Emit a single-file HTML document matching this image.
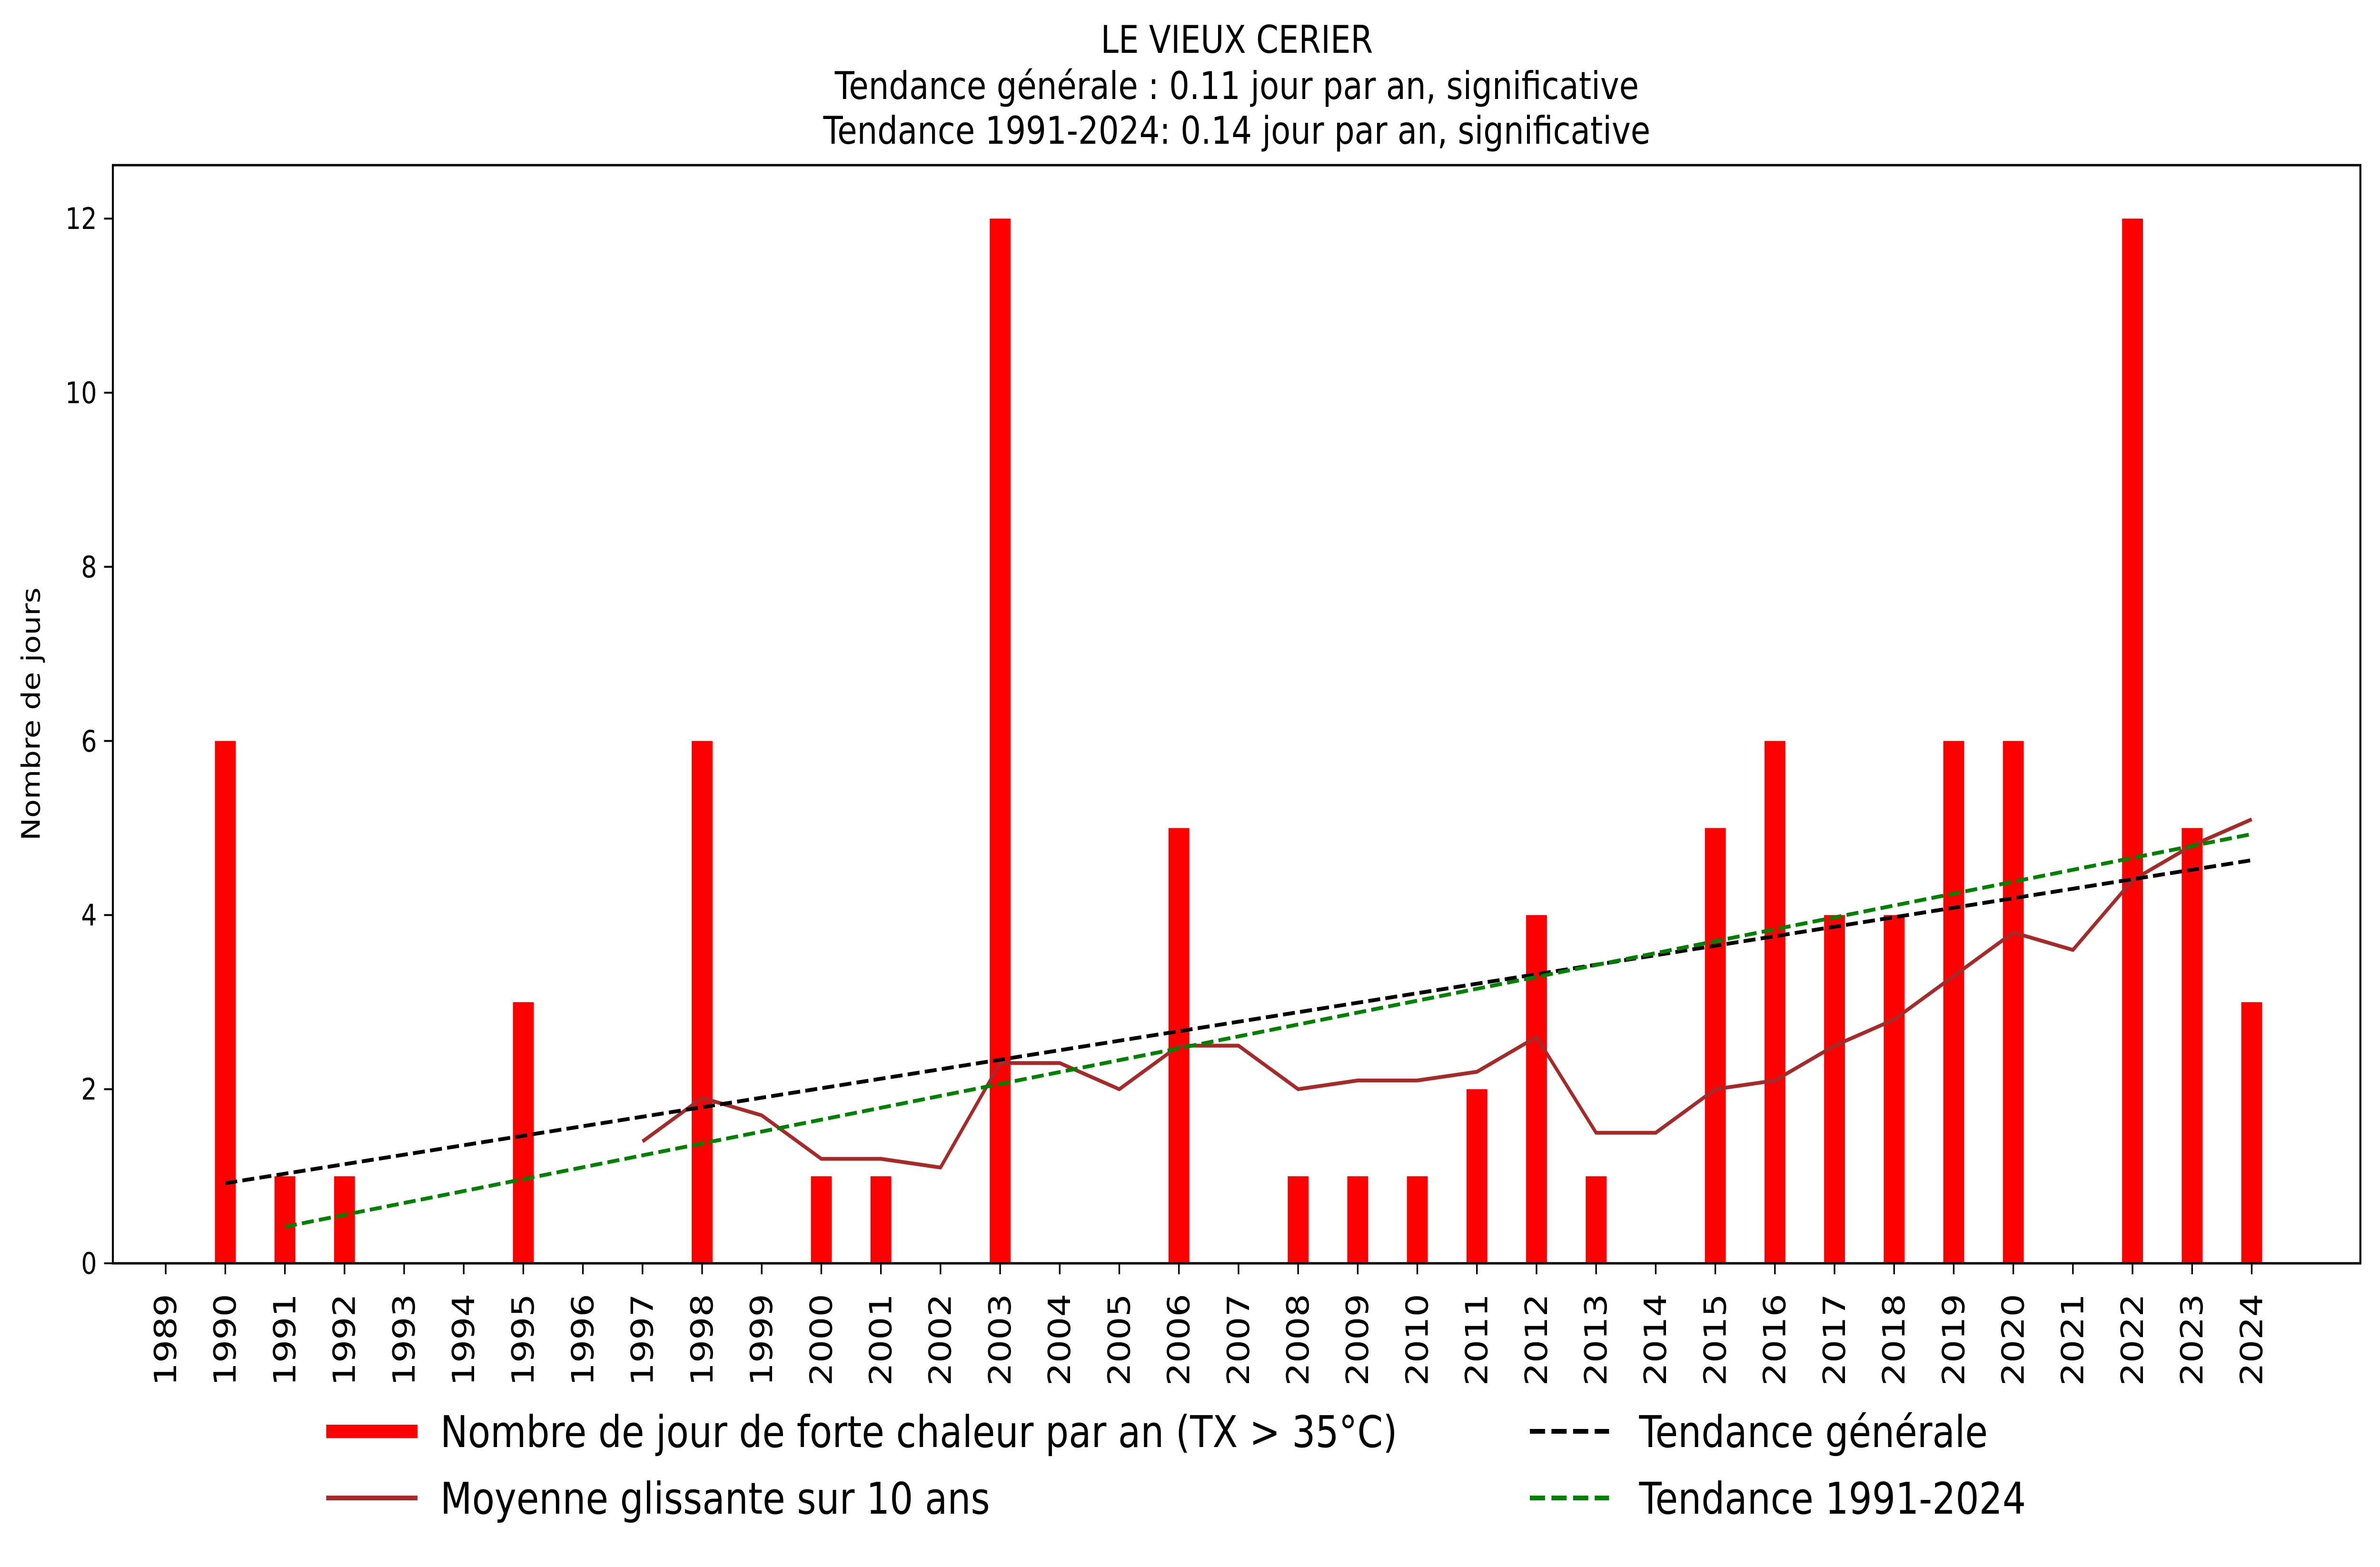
<!DOCTYPE html>
<html><head><meta charset="utf-8"><style>
html,body{margin:0;padding:0;background:#fff;overflow:hidden;width:100%;height:100%;}
svg{display:block;width:100vw;height:100vh;font-family:"DejaVu Sans","Liberation Sans",sans-serif;}
</style></head><body>
<svg viewBox="0 0 5946 3292" preserveAspectRatio="none" xmlns="http://www.w3.org/2000/svg">
<rect width="5946" height="3292" fill="#fff"/>
<g font-size="80" text-anchor="middle" fill="#000">
<text x="3090" y="111">LE VIEUX CERIER</text>
<text x="3090" y="208">Tendance générale : 0.11 jour par an, significative</text>
<text x="3090" y="302">Tendance 1991-2024: 0.14 jour par an, significative</text>
</g>
<g transform="translate(414 2654) scale(148.9 -182.9)" fill="#ff0000">
<rect x="0.825" y="0" width="0.35" height="6"/>
<rect x="1.825" y="0" width="0.35" height="1"/>
<rect x="2.825" y="0" width="0.35" height="1"/>
<rect x="5.825" y="0" width="0.35" height="3"/>
<rect x="8.825" y="0" width="0.35" height="6"/>
<rect x="10.825" y="0" width="0.35" height="1"/>
<rect x="11.825" y="0" width="0.35" height="1"/>
<rect x="13.825" y="0" width="0.35" height="12"/>
<rect x="16.825" y="0" width="0.35" height="5"/>
<rect x="18.825" y="0" width="0.35" height="1"/>
<rect x="19.825" y="0" width="0.35" height="1"/>
<rect x="20.825" y="0" width="0.35" height="1"/>
<rect x="21.825" y="0" width="0.35" height="2"/>
<rect x="22.825" y="0" width="0.35" height="4"/>
<rect x="23.825" y="0" width="0.35" height="1"/>
<rect x="25.825" y="0" width="0.35" height="5"/>
<rect x="26.825" y="0" width="0.35" height="6"/>
<rect x="27.825" y="0" width="0.35" height="4"/>
<rect x="28.825" y="0" width="0.35" height="4"/>
<rect x="29.825" y="0" width="0.35" height="6"/>
<rect x="30.825" y="0" width="0.35" height="6"/>
<rect x="32.825" y="0" width="0.35" height="12"/>
<rect x="33.825" y="0" width="0.35" height="5"/>
<rect x="34.825" y="0" width="0.35" height="3"/>
</g>
<polyline fill="none" stroke="#a52a2a" stroke-width="8" stroke-linejoin="round" points="1605.2,2398 1754.1,2306.5 1903,2343.1 2051.9,2434.5 2200.8,2434.5 2349.7,2452.8 2498.6,2233.3 2647.5,2233.3 2796.4,2288.2 2945.3,2196.8 3094.2,2196.8 3243.1,2288.2 3392,2269.9 3540.9,2269.9 3689.8,2251.6 3838.7,2178.5 3987.6,2379.7 4136.5,2379.7 4285.4,2288.2 4434.3,2269.9 4583.2,2196.8 4732.1,2141.9 4881,2050.4 5029.9,1959 5178.8,1995.6 5327.7,1849.2 5476.6,1776.1 5625.5,1721.2"/>
<line x1="562.9" y1="2485.7" x2="5625.5" y2="1807.2" stroke="#000" stroke-width="8" stroke-dasharray="30 13"/>
<line x1="711.8" y1="2577.2" x2="5625.5" y2="1752.3" stroke="#008000" stroke-width="8" stroke-dasharray="30 13"/>
<rect x="282" y="347" width="5615" height="2307" fill="none" stroke="#000" stroke-width="5"/>
<g stroke="#000" stroke-width="4">
<line x1="260" y1="2654" x2="282" y2="2654"/><line x1="260" y1="2288.2" x2="282" y2="2288.2"/><line x1="260" y1="1922.4" x2="282" y2="1922.4"/><line x1="260" y1="1556.6" x2="282" y2="1556.6"/><line x1="260" y1="1190.8" x2="282" y2="1190.8"/><line x1="260" y1="825" x2="282" y2="825"/><line x1="260" y1="459.2" x2="282" y2="459.2"/>
</g>
<g font-size="62" text-anchor="end" fill="#000">
<text x="242" y="2676">0</text><text x="242" y="2310">2</text><text x="242" y="1944">4</text><text x="242" y="1579">6</text><text x="242" y="1213">8</text><text x="242" y="847">10</text><text x="242" y="481">12</text>
</g>
<text transform="translate(77 1500) rotate(-90)" font-size="64" text-anchor="middle" dominant-baseline="central">Nombre de jours</text>
<g stroke="#000" stroke-width="4">
<line x1="414" y1="2654" x2="414" y2="2677"/><line x1="562.9" y1="2654" x2="562.9" y2="2677"/><line x1="711.8" y1="2654" x2="711.8" y2="2677"/><line x1="860.7" y1="2654" x2="860.7" y2="2677"/><line x1="1009.6" y1="2654" x2="1009.6" y2="2677"/><line x1="1158.5" y1="2654" x2="1158.5" y2="2677"/><line x1="1307.4" y1="2654" x2="1307.4" y2="2677"/><line x1="1456.3" y1="2654" x2="1456.3" y2="2677"/><line x1="1605.2" y1="2654" x2="1605.2" y2="2677"/><line x1="1754.1" y1="2654" x2="1754.1" y2="2677"/><line x1="1903" y1="2654" x2="1903" y2="2677"/><line x1="2051.9" y1="2654" x2="2051.9" y2="2677"/><line x1="2200.8" y1="2654" x2="2200.8" y2="2677"/><line x1="2349.7" y1="2654" x2="2349.7" y2="2677"/><line x1="2498.6" y1="2654" x2="2498.6" y2="2677"/><line x1="2647.5" y1="2654" x2="2647.5" y2="2677"/><line x1="2796.4" y1="2654" x2="2796.4" y2="2677"/><line x1="2945.3" y1="2654" x2="2945.3" y2="2677"/><line x1="3094.2" y1="2654" x2="3094.2" y2="2677"/><line x1="3243.1" y1="2654" x2="3243.1" y2="2677"/><line x1="3392" y1="2654" x2="3392" y2="2677"/><line x1="3540.9" y1="2654" x2="3540.9" y2="2677"/><line x1="3689.8" y1="2654" x2="3689.8" y2="2677"/><line x1="3838.7" y1="2654" x2="3838.7" y2="2677"/><line x1="3987.6" y1="2654" x2="3987.6" y2="2677"/><line x1="4136.5" y1="2654" x2="4136.5" y2="2677"/><line x1="4285.4" y1="2654" x2="4285.4" y2="2677"/><line x1="4434.3" y1="2654" x2="4434.3" y2="2677"/><line x1="4583.2" y1="2654" x2="4583.2" y2="2677"/><line x1="4732.1" y1="2654" x2="4732.1" y2="2677"/><line x1="4881" y1="2654" x2="4881" y2="2677"/><line x1="5029.9" y1="2654" x2="5029.9" y2="2677"/><line x1="5178.8" y1="2654" x2="5178.8" y2="2677"/><line x1="5327.7" y1="2654" x2="5327.7" y2="2677"/><line x1="5476.6" y1="2654" x2="5476.6" y2="2677"/><line x1="5625.5" y1="2654" x2="5625.5" y2="2677"/>
</g>
<g font-size="76" text-anchor="end" dominant-baseline="central" fill="#000">
<text transform="translate(414 2718) rotate(-90)">1989</text>
<text transform="translate(562.9 2718) rotate(-90)">1990</text>
<text transform="translate(711.8 2718) rotate(-90)">1991</text>
<text transform="translate(860.7 2718) rotate(-90)">1992</text>
<text transform="translate(1009.6 2718) rotate(-90)">1993</text>
<text transform="translate(1158.5 2718) rotate(-90)">1994</text>
<text transform="translate(1307.4 2718) rotate(-90)">1995</text>
<text transform="translate(1456.3 2718) rotate(-90)">1996</text>
<text transform="translate(1605.2 2718) rotate(-90)">1997</text>
<text transform="translate(1754.1 2718) rotate(-90)">1998</text>
<text transform="translate(1903 2718) rotate(-90)">1999</text>
<text transform="translate(2051.9 2718) rotate(-90)">2000</text>
<text transform="translate(2200.8 2718) rotate(-90)">2001</text>
<text transform="translate(2349.7 2718) rotate(-90)">2002</text>
<text transform="translate(2498.6 2718) rotate(-90)">2003</text>
<text transform="translate(2647.5 2718) rotate(-90)">2004</text>
<text transform="translate(2796.4 2718) rotate(-90)">2005</text>
<text transform="translate(2945.3 2718) rotate(-90)">2006</text>
<text transform="translate(3094.2 2718) rotate(-90)">2007</text>
<text transform="translate(3243.1 2718) rotate(-90)">2008</text>
<text transform="translate(3392 2718) rotate(-90)">2009</text>
<text transform="translate(3540.9 2718) rotate(-90)">2010</text>
<text transform="translate(3689.8 2718) rotate(-90)">2011</text>
<text transform="translate(3838.7 2718) rotate(-90)">2012</text>
<text transform="translate(3987.6 2718) rotate(-90)">2013</text>
<text transform="translate(4136.5 2718) rotate(-90)">2014</text>
<text transform="translate(4285.4 2718) rotate(-90)">2015</text>
<text transform="translate(4434.3 2718) rotate(-90)">2016</text>
<text transform="translate(4583.2 2718) rotate(-90)">2017</text>
<text transform="translate(4732.1 2718) rotate(-90)">2018</text>
<text transform="translate(4881 2718) rotate(-90)">2019</text>
<text transform="translate(5029.9 2718) rotate(-90)">2020</text>
<text transform="translate(5178.8 2718) rotate(-90)">2021</text>
<text transform="translate(5327.7 2718) rotate(-90)">2022</text>
<text transform="translate(5476.6 2718) rotate(-90)">2023</text>
<text transform="translate(5625.5 2718) rotate(-90)">2024</text>
</g>
<line x1="815" y1="3007" x2="1043" y2="3007" stroke="#ff0000" stroke-width="28"/>
<line x1="815" y1="3147" x2="1043" y2="3147" stroke="#a52a2a" stroke-width="10"/>
<line x1="3822" y1="3007" x2="4020" y2="3007" stroke="#000" stroke-width="10" stroke-dasharray="38 16"/>
<line x1="3822" y1="3147" x2="4020" y2="3147" stroke="#008000" stroke-width="10" stroke-dasharray="38 16"/>
<g font-size="92" fill="#000">
<text x="1100" y="3040">Nombre de jour de forte chaleur par an (TX &gt; 35°C)</text>
<text x="1100" y="3180">Moyenne glissante sur 10 ans</text>
<text x="4095" y="3040">Tendance générale</text>
<text x="4095" y="3180">Tendance 1991-2024</text>
</g>
</svg>
</body></html>
